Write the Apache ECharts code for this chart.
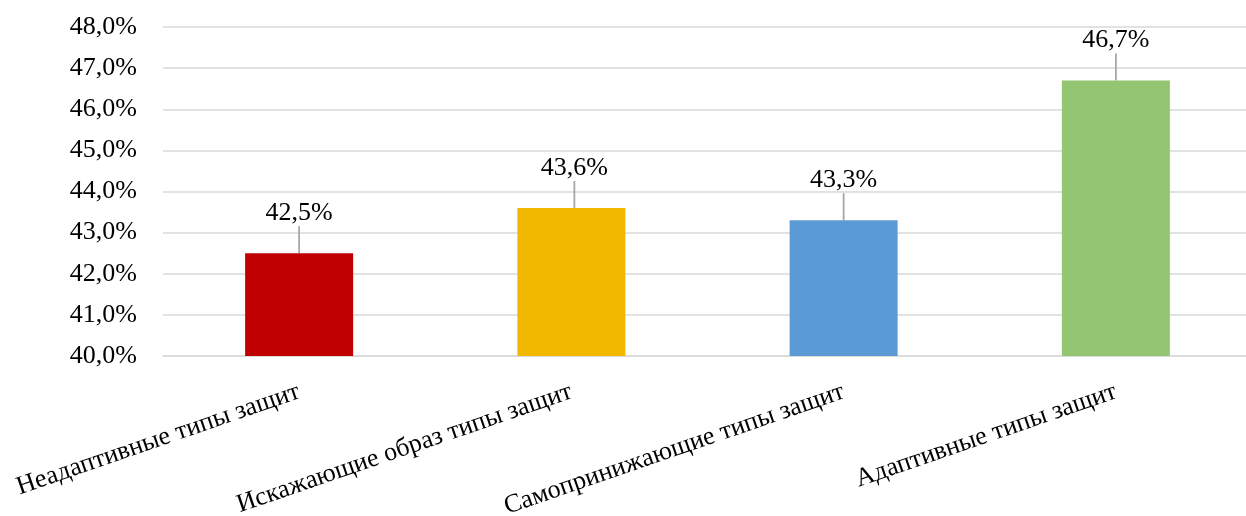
<!DOCTYPE html>
<html>
<head>
<meta charset="utf-8">
<script src="https://cdn.jsdelivr.net/npm/echarts@6/dist/echarts.min.js"></script>
<style>
  html, body { margin: 0; padding: 0; background: #fff; }
  #chart { width: 1246px; height: 516px; }
</style>
</head>
<body>
<div id="chart"></div>
<script>
// Share of each defence type, percent
const categories = [
  'Неадаптивные типы защит',
  'Искажающие образ типы защит',
  'Самопринижающие типы защит',
  'Адаптивные типы защит'
];
const values = [42.5, 43.6, 43.3, 46.7];
const barColors = ['#C00000', '#F2B800', '#5B9BD5', '#93C572'];

const fmt = v => v.toFixed(1).replace('.', ',') + '%';
const serif = '"Liberation Serif", "Times New Roman", serif';

const chart = echarts.init(document.getElementById('chart'));
chart.setOption({
  animation: false,
  grid: {
    left: 163, top: 27, width: 1089, height: 329,
    containLabel: false,
    outerBoundsMode: 'none'
  },
  xAxis: {
    type: 'category',
    data: categories,
    axisTick: { show: false },
    axisLine: { show: true, lineStyle: { color: '#d9d9d9', width: 1.5 } },
    axisLabel: {
      rotate: 19,
      margin: 35,
      interval: 0,
      color: '#000',
      fontFamily: serif,
      fontSize: 26
    }
  },
  yAxis: {
    type: 'value',
    min: 40,
    max: 48,
    interval: 1,
    axisLine: { show: false },
    axisTick: { show: false },
    splitLine: { lineStyle: { color: '#d9d9d9', width: 1.5 } },
    axisLabel: {
      margin: 26,
      color: '#000',
      fontFamily: serif,
      fontSize: 26,
      formatter: v => fmt(v)
    }
  },
  series: [{
    type: 'bar',
    barWidth: 108,
    data: values.map((v, i) => ({ value: v, itemStyle: { color: barColors[i] } })),
    label: {
      show: true,
      position: 'top',
      distance: 1,
      color: '#000',
      fontFamily: serif,
      fontSize: 26,
      formatter: p => fmt(p.value)
    },
    labelLayout: p => ({ dy: -26, dx: p.dataIndex === 1 ? 3 : 0 }),
    labelLine: { show: true, lineStyle: { color: '#a6a6a6', width: 1.8 } }
  }]
});
</script>
</body>
</html>
